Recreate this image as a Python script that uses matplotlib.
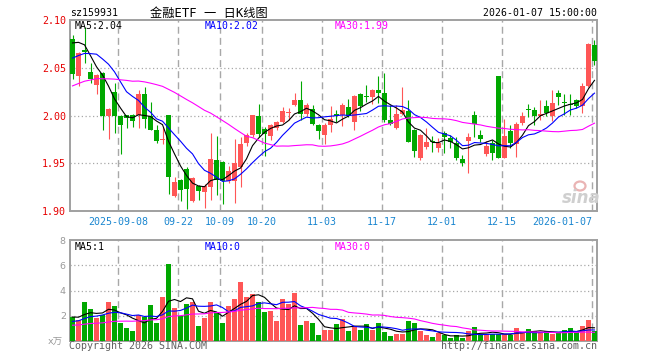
import numpy as np
import pandas as pd
import matplotlib
matplotlib.use("Agg")
import matplotlib.pyplot as plt
from matplotlib.patches import Ellipse

plt.rcParams["font.family"] = ["DejaVu Sans Mono", "Noto Sans CJK SC"]

""" trading days shown (2025-08-27 .. 2026-01-07, exchange holidays removed) """
holidays = ["2025-10-01", "2025-10-02", "2025-10-03", "2025-10-06", "2025-10-07",
            "2025-10-08", "2026-01-01", "2026-01-02"]
days = pd.bdate_range("2025-08-27", "2026-01-07")
days = days[~days.isin(pd.to_datetime(holidays))]

tick_days = ["2025-09-08", "2025-09-22", "2025-10-09", "2025-10-20", "2025-11-03",
             "2025-11-17", "2025-12-01", "2025-12-15", "2026-01-07"]
tick_labels = ["2025-09-08", "09-22", "10-09", "10-20", "11-03",
               "11-17", "12-01", "12-15", "2026-01-07"]

""" daily k-line, read off the picture """
opens = [2.080, 2.041, 2.069, 2.046, 2.032, 2.044, 2.000, 2.025, 2.000, 2.000,
         2.001, 2.001, 2.022, 1.999, 1.985, 1.974, 2.000, 1.916, 1.932, 1.944,
         1.910, 1.926, 1.920, 1.925, 1.953, 1.951, 1.931, 1.931, 1.946, 1.971,
         1.980, 2.000, 1.986, 1.979, 1.987, 1.993, 2.003, 2.011, 2.016, 2.002,
         2.007, 1.990, 1.980, 1.990, 2.002, 2.001, 2.009, 1.993, 2.023, 2.020,
         2.019, 2.027, 2.024, 1.995, 1.987, 2.002, 2.005, 1.985, 1.955, 1.967,
         1.973, 1.966, 1.982, 1.976, 1.971, 1.954, 1.973, 2.000, 1.980, 1.960,
         1.971, 2.041, 1.956, 1.984, 1.970, 1.992, 2.007, 2.006, 2.000, 2.010,
         2.000, 2.024, 2.014, 2.012, 2.016, 2.010, 2.031, 2.074]
closes = [2.043, 2.065, 2.067, 2.038, 2.042, 2.000, 2.007, 2.000, 1.990, 1.997,
          1.994, 2.023, 1.996, 1.985, 1.973, 1.975, 1.936, 1.930, 1.922, 1.923,
          1.935, 1.921, 1.926, 1.954, 1.932, 1.931, 1.942, 1.950, 1.970, 1.980,
          2.000, 1.981, 1.981, 1.990, 1.993, 2.005, 2.004, 2.016, 2.002, 2.011,
          1.991, 1.984, 1.990, 1.996, 2.000, 2.011, 2.000, 2.020, 2.010, 2.019,
          2.027, 2.024, 1.995, 1.991, 2.002, 2.006, 1.972, 1.963, 1.980, 1.972,
          1.972, 1.971, 1.977, 1.972, 1.955, 1.950, 1.977, 1.991, 1.975, 1.968,
          1.961, 1.956, 1.979, 1.971, 1.991, 2.000, 2.006, 2.000, 2.002, 2.003,
          2.013, 2.019, 2.013, 2.011, 2.010, 2.031, 2.075, 2.057]
highs = [2.084, 2.066, 2.093, 2.055, 2.043, 2.046, 2.008, 2.034, 2.001, 2.001,
         2.002, 2.027, 2.030, 2.014, 1.990, 1.988, 2.000, 1.936, 1.934, 1.946,
         1.936, 1.927, 1.928, 1.982, 1.979, 1.952, 1.947, 1.975, 1.978, 1.982,
         2.000, 2.012, 1.988, 1.991, 1.994, 2.009, 2.008, 2.024, 2.036, 2.013,
         2.011, 1.991, 1.992, 2.010, 2.006, 2.013, 2.017, 2.021, 2.024, 2.032,
         2.028, 2.041, 2.045, 2.011, 2.011, 2.030, 2.016, 1.986, 1.981, 1.987,
         1.979, 1.976, 1.984, 1.980, 1.977, 1.959, 1.982, 2.005, 1.985, 1.973,
         1.974, 2.041, 1.996, 1.990, 1.993, 2.004, 2.012, 2.009, 2.016, 2.016,
         2.027, 2.027, 2.022, 2.022, 2.017, 2.034, 2.076, 2.079]
lows = [2.038, 2.031, 2.055, 2.034, 2.022, 1.985, 1.975, 1.982, 1.960, 1.987,
        1.988, 1.987, 1.987, 1.985, 1.971, 1.970, 1.918, 1.915, 1.910, 1.902,
        1.909, 1.911, 1.903, 1.912, 1.917, 1.907, 1.929, 1.908, 1.925, 1.968,
        1.977, 1.977, 1.958, 1.974, 1.985, 1.992, 1.995, 2.010, 1.995, 2.000,
        1.990, 1.975, 1.970, 1.983, 1.993, 1.989, 1.998, 1.985, 2.005, 2.014,
        2.012, 2.013, 1.993, 1.990, 1.986, 2.001, 1.972, 1.957, 1.953, 1.965,
        1.962, 1.962, 1.961, 1.966, 1.953, 1.947, 1.940, 1.977, 1.972, 1.958,
        1.953, 1.955, 1.955, 1.966, 1.957, 1.990, 1.998, 1.990, 1.995, 2.000,
        1.994, 2.011, 2.001, 2.001, 2.008, 2.003, 2.030, 2.053]
volumes = [1.90, 1.63, 3.08, 2.50, 1.82, 2.08, 3.08, 2.76, 1.42, 1.03,
           0.76, 2.08, 1.90, 2.82, 1.42, 3.50, 6.10, 2.60, 2.00, 2.90,
           3.10, 1.20, 1.80, 3.10, 2.30, 1.40, 2.80, 3.30, 4.70, 3.50,
           3.70, 3.10, 2.30, 2.40, 1.55, 3.30, 2.90, 3.80, 1.30, 1.60,
           1.40, 0.50, 0.85, 0.85, 1.34, 1.76, 0.76, 1.18, 0.84, 1.34,
           0.84, 1.39, 0.71, 0.37, 0.55, 0.55, 1.55, 1.39, 0.76, 0.45,
           0.29, 0.63, 0.45, 0.21, 0.45, 0.21, 0.76, 1.08, 0.55, 0.55,
           0.55, 0.55, 0.55, 0.45, 1.00, 0.68, 0.92, 0.76, 0.68, 0.76,
           0.53, 0.68, 0.84, 1.00, 0.68, 1.16, 1.63, 0.76]

""" the 29 sessions before the window, estimated so the MA lines start where they do """
pre_closes = [1.990, 1.995, 2.000, 1.998, 2.005, 2.010, 2.008, 2.012, 2.015, 2.020,
              2.018, 2.022, 2.025, 2.020, 2.028, 2.030, 2.026, 2.032, 2.035, 2.040,
              2.038, 2.045, 2.040, 2.048, 2.050, 2.062, 2.080, 2.095, 2.100]
pre_volumes = [1.0, 1.2, 0.9, 1.1, 1.3, 1.0, 1.2, 1.1, 0.9, 1.0,
               1.2, 1.3, 1.1, 1.0, 1.2, 1.0, 1.1, 1.3, 1.0, 1.1,
               1.1, 1.3, 1.0, 1.4, 1.2, 1.7, 2.0, 1.8, 2.1]

RED, GREEN = "#ff5656", "#00a800"
W, H = 660, 360


def box(l, t, r, b):
  """ pixel box -> figure fraction """
  return [l / W, 1 - b / H, (r - l) / W, (b - t) / H]


def ftext(x, y, s, **kw):
  return fig.text(x / W, 1 - y / H, s, va="center", **kw)


n = len(closes)
x = np.arange(n)
o, c = np.array(opens), np.array(closes)
colors = [RED if cc > oo else GREEN for oo, cc in zip(o, c)]

all_c = pd.Series(pre_closes + closes)
all_v = pd.Series(pre_volumes + volumes)
k = len(pre_closes)
ma = {p: all_c.rolling(p).mean().values[k:] for p in (5, 10, 30)}
vma = {p: all_v.rolling(p).mean().values[k:] for p in (5, 10, 30)}
ma_colors = {5: "black", 10: "#0000ff", 30: "#ff00ff"}

tick_pos = [days.get_loc(pd.Timestamp(d)) for d in tick_days]

fig = plt.figure(figsize=(W / 100, H / 100), dpi=100)
ax = fig.add_axes(box(70, 20, 597, 211))
axv = fig.add_axes(box(70, 240, 597, 341))

""" candles """
ax.vlines(x, lows, highs, colors=colors, lw=0.8, zorder=3)
body = np.maximum(np.abs(c - o), 0.0008)
ax.bar(x, body, bottom=np.minimum(o, c), width=0.8, color=colors, lw=0, zorder=3)
for p in (5, 10, 30):
  ax.plot(x, ma[p], color=ma_colors[p], lw=0.8, zorder=4)

""" volume """
axv.bar(x, volumes, width=0.8, color=colors, lw=0, zorder=3)
for p in (5, 10, 30):
  axv.plot(x, vma[p], color=ma_colors[p], lw=0.8, zorder=4)

ax.set_ylim(1.90, 2.10)
axv.set_ylim(0, 8)
for a in (ax, axv):
  a.set_xlim(-0.42, n - 0.58)
  for s in a.spines.values():
    s.set_color("#a0a0a0")
    s.set_linewidth(1.4)
  for t in tick_pos:
    a.axvline(t - 0.4, color="#a8a8a8", lw=1.0, ls=(0, (5, 3)), zorder=1)

for yv in (1.95, 2.00, 2.05):
  ax.axhline(yv, color="#a8a8a8", lw=0.9, ls=(0, (1, 2)), zorder=1)
for yv in (2, 4, 6):
  axv.axhline(yv, color="#a8a8a8", lw=0.9, ls=(0, (1, 2)), zorder=1)

ax.set_yticks([1.90, 1.95, 2.00, 2.05, 2.10])
ax.set_yticklabels(["%.2f" % v for v in [1.90, 1.95, 2.00, 2.05, 2.10]])
ax.tick_params(axis="y", length=0, pad=3, labelsize=7.2, labelcolor="#e60000")
ax.set_xticks([t - 0.4 for t in tick_pos])
ax.set_xticklabels(tick_labels)
ax.tick_params(axis="x", length=0, pad=4, labelsize=7.2, labelcolor="#1a86d0")
ax.get_xticklabels()[-1].set_ha("right")

axv.set_xticks([])
axv.set_yticks([2, 4, 6, 8])
axv.set_yticklabels(["2", "4", "6", "8"], family="DejaVu Sans")
axv.tick_params(axis="y", length=0, pad=3, labelsize=6.8, labelcolor="#9a9a9a")

""" header and captions """
ftext(70, 13, "sz159931", ha="left", size=7.1)
ftext(209, 13, "金融ETF 一 日K线图", ha="center", size=8.8)
ftext(597, 13, "2026-01-07 15:00:00", ha="right", size=7.1)

ftext(75, 26, "MA5:2.04", ha="left", size=7.1, color="black")
ftext(205, 26, "MA10:2.02", ha="left", size=7.1, color="#0000ff")
ftext(335, 26, "MA30:1.99", ha="left", size=7.1, color="#ff00ff")
ftext(75, 247, "MA5:1", ha="left", size=7.1, color="black")
ftext(205, 247, "MA10:0", ha="left", size=7.1, color="#0000ff")
ftext(335, 247, "MA30:0", ha="left", size=7.1, color="#ff00ff")

ftext(63, 341, "x万", ha="right", size=6.8, color="#9a9a9a",
      family=["DejaVu Sans", "Noto Sans CJK SC"])
ftext(69, 346, "Copyright 2026 SINA.COM", ha="left", size=7.2, color="#606060")
ftext(597, 346, "http://finance.sina.com.cn", ha="right", size=7.2, color="#606060")

""" sina watermark: eye ring + word """
fig.add_artist(Ellipse((580 / W, 1 - 186 / H), 11 / W, 9 / H, transform=fig.transFigure,
                       fill=False, ec="#eab4b4", lw=1.6))
ftext(581, 198, "sina", ha="center", size=12, color="#cfcfcf",
      style="italic", weight="bold", family="DejaVu Sans")

plt.savefig("out.png", dpi=100)
plt.close()
